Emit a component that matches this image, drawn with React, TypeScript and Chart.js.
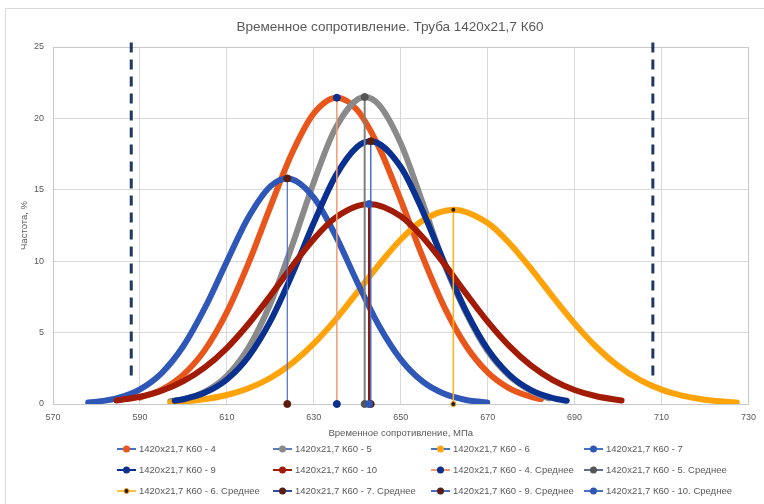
import React, { useEffect, useRef } from "react";
import { Chart, registerables } from "chart.js";

Chart.register(...registerables);

const FONT = "'Liberation Sans', Arial, sans-serif";
const TEXT = "#595959";

const TITLE = "Временное сопротивление. Труба 1420x21,7 К60";
const X_TITLE = "Временное сопротивление, МПа";
const Y_TITLE = "Частота, %";

// axis ranges and tick steps
const X_MIN = 570;
const X_MAX = 730;
const X_STEP = 20;
const Y_MIN = 0;
const Y_MAX = 25;
const Y_STEP = 5;

// distribution curves (MPa, %)
const k4X = [590, 595, 600, 605, 610, 615, 620, 625, 630, 635.3, 640, 645, 650, 655, 660, 665, 670, 675, 680, 682.3];
const k4Y = [0.45, 1.01, 2.06, 3.81, 6.43, 9.88, 13.81, 17.57, 20.35, 21.45, 20.58, 17.97, 14.28, 10.33, 6.8, 4.08, 2.22, 1.1, 0.5, 0.34];

const k5X = [597, 600, 605, 610, 615, 620, 625, 630, 635, 641.7, 645, 650, 655, 660, 665, 670, 675, 680, 684];
const k5Y = [0.19, 0.34, 0.87, 1.97, 3.95, 7.02, 11.08, 15.53, 19.32, 21.5, 20.95, 18.25, 14.12, 9.8, 6.4, 3.7, 1.95, 0.9, 0.4];

const k6X = [597, 600, 605, 610, 615, 620, 625, 630, 635, 640, 645, 650, 655, 662.1, 670, 675, 680, 685, 690, 695, 700, 705, 710, 715, 720, 727.3];
const k6Y = [0.11, 0.17, 0.34, 0.63, 1.1, 1.82, 2.86, 4.23, 5.91, 7.82, 9.76, 11.52, 12.84, 13.6, 12.67, 11.26, 9.46, 7.5, 5.63, 3.99, 2.67, 1.69, 1.01, 0.57, 0.3, 0.11];

const k7X = [578.1, 580, 585, 590, 595, 600, 605, 610, 615, 620, 623.9, 630, 635, 640, 645, 650, 655, 660, 665, 669.9];
const k7Y = [0.11, 0.16, 0.43, 1.03, 2.17, 4.06, 6.76, 9.98, 13.09, 15.24, 15.8, 14.46, 11.79, 8.53, 5.48, 3.13, 1.58, 0.71, 0.28, 0.1];

const k9X = [598, 600, 605, 610, 615, 620, 625, 630, 635, 640, 643.1, 650, 655, 660, 665, 670, 675, 680, 685, 688.2];
const k9Y = [0.23, 0.33, 0.8, 1.72, 3.33, 5.8, 9.06, 12.69, 15.96, 18.02, 18.4, 16.6, 13.54, 9.92, 6.52, 3.84, 2.04, 0.97, 0.41, 0.23];

const k10X = [584.6, 590, 595, 600, 605, 610, 615, 620, 625, 630, 635, 642.7, 650, 655, 660, 665, 670, 675, 680, 685, 690, 695, 700.8];
const k10Y = [0.25, 0.51, 0.93, 1.6, 2.58, 3.92, 5.62, 7.58, 9.64, 11.56, 13.05, 14.0, 13.14, 11.69, 9.81, 7.75, 5.77, 4.05, 2.68, 1.67, 0.98, 0.54, 0.25];

const curveNames = [
  "1420x21,7 К60 - 4",
  "1420x21,7 К60 - 5",
  "1420x21,7 К60 - 6",
  "1420x21,7 К60 - 7",
  "1420x21,7 К60 - 9",
  "1420x21,7 К60 - 10",
];

// mean values and the curve height at each mean
const meanNames = [
  "1420x21,7 К60 - 4. Среднее",
  "1420x21,7 К60 - 5. Среднее",
  "1420x21,7 К60 - 6. Среднее",
  "1420x21,7 К60 - 7. Среднее",
  "1420x21,7 К60 - 9. Среднее",
  "1420x21,7 К60 - 10. Среднее",
];
const meanX = [635.3, 641.7, 662.1, 623.9, 643.1, 642.7];
const meanTop = [21.45, 21.5, 13.6, 15.8, 18.4, 14.0];

// tolerance limits (dashed verticals)
const limitX = [588, 708];
const limitSpan = [2, 25.5];

// styles
const curveColors = ["#E8561C", "#8A8A8A", "#FFA30A", "#2F57B7", "#0A3090", "#A21B04"];
const curveLegendLine = ["#4472C4", "#5B7DB8", "#4472C4", "#4472C4", "#0A3090", "#A21B04"];
const meanLine = ["#F29A70", "#7F7F7F", "#FFB01E", "#4A6FC8", "#4A6FC8", "#8E1A08"];
const meanLegendLine = ["#F29A70", "#5F6F8F", "#FFC040", "#2F4F9F", "#4A6FC8", "#4A6FC8"];
const meanMarker = ["#0A3090", "#555555", "#1E1E1E", "#5A1E10", "#5A1E10", "#2F55B5"];
const meanMarkerBorder = ["#0A3090", "#555555", "#FFA30A", "#5A1E10", "#5A1E10", "#2F55B5"];
const meanMarkerR = [3.5, 3.5, 2.5, 3.5, 3.5, 3.5];
const meanWidth = [1.5, 2, 1.5, 1.2, 1.5, 2];
const limitColor = "#1F3864";

const curveX = [k4X, k5X, k6X, k7X, k9X, k10X];
const curveY = [k4Y, k5Y, k6Y, k7Y, k9Y, k10Y];

type LegendItem = { text: string; line: string; marker: string; border: string; r: number };

const legendItems: LegendItem[] = [
  ...curveNames.map((t, i) => ({ text: t, line: curveLegendLine[i], marker: curveColors[i], border: curveColors[i], r: 3.5 })),
  ...meanNames.map((t, i) => ({ text: t, line: meanLegendLine[i], marker: meanMarker[i], border: meanMarkerBorder[i], r: meanMarkerR[i] })),
];

const LEG_COLS = [117, 273, 431, 584];
const LEG_ROWS = [449, 470, 491];

const decorPlugin = {
  id: "decor",
  beforeDraw(chart: any) {
    const { ctx } = chart;
    ctx.save();
    ctx.fillStyle = "#ffffff";
    ctx.fillRect(0, 0, chart.width, chart.height);
    ctx.strokeStyle = "#D9D9D9";
    ctx.lineWidth = 1;
    ctx.strokeRect(5.5, 8.5, chart.width + 10, chart.height + 10);
    ctx.restore();
  },
  beforeDatasetsDraw(chart: any) {
    const { ctx, chartArea: a } = chart;
    ctx.save();
    ctx.strokeStyle = "#C8C8C8";
    ctx.lineWidth = 1;
    ctx.strokeRect(Math.round(a.left) + 0.5, Math.round(a.top) + 0.5, Math.round(a.right - a.left), Math.round(a.bottom - a.top));
    ctx.restore();
  },
  afterDraw(chart: any) {
    const { ctx } = chart;
    ctx.save();
    ctx.fillStyle = TEXT;
    ctx.font = `13.5px ${FONT}`;
    ctx.textAlign = "center";
    ctx.textBaseline = "middle";
    ctx.fillText(TITLE, 390, 27);

    ctx.font = `9.5px ${FONT}`;
    ctx.textAlign = "left";
    legendItems.forEach((it, i) => {
      const x = LEG_COLS[i % 4];
      const y = LEG_ROWS[Math.floor(i / 4)];
      ctx.strokeStyle = it.line;
      ctx.lineWidth = 2;
      ctx.beginPath();
      ctx.moveTo(x, y);
      ctx.lineTo(x + 19, y);
      ctx.stroke();
      ctx.beginPath();
      ctx.arc(x + 9.5, y, it.r, 0, Math.PI * 2);
      ctx.fillStyle = it.marker;
      ctx.fill();
      if (it.border !== it.marker) {
        ctx.strokeStyle = it.border;
        ctx.lineWidth = 1;
        ctx.stroke();
      }
      ctx.fillStyle = TEXT;
      ctx.fillText(it.text, x + 22, y + 0.5);
    });
    ctx.restore();
  },
};

export default function App() {
  const ref = useRef<HTMLCanvasElement | null>(null);

  useEffect(() => {
    document.body.style.margin = "0";
    if (!ref.current) return;

    const curveSets = curveX.map((xs, i) => ({
      label: curveNames[i],
      data: xs.map((x, j) => ({ x, y: curveY[i][j] })),
      showLine: true,
      borderColor: curveColors[i],
      backgroundColor: curveColors[i],
      borderWidth: 6,
      borderCapStyle: "round" as const,
      borderJoinStyle: "round" as const,
      pointRadius: 0,
      cubicInterpolationMode: "monotone" as const,
      order: 100 - i,
    }));

    const meanSets = meanX.map((m, i) => ({
      label: meanNames[i],
      data: [
        { x: m, y: 0 },
        { x: m, y: meanTop[i] },
      ],
      showLine: true,
      borderColor: meanLine[i],
      borderWidth: meanWidth[i],
      pointRadius: meanMarkerR[i],
      pointBackgroundColor: meanMarker[i],
      pointBorderColor: meanMarkerBorder[i],
      pointBorderWidth: 1,
      clip: false as const,
      order: 50 - i,
    }));

    const limitSets = limitX.map((x, i) => ({
      label: "limit" + i,
      data: [
        { x, y: limitSpan[0] },
        { x, y: limitSpan[1] },
      ],
      showLine: true,
      borderColor: limitColor,
      borderWidth: 3,
      borderDash: [10, 7],
      pointRadius: 0,
      clip: false as const,
      order: 10 - i,
    }));

    const chart = new Chart(ref.current, {
      type: "scatter",
      data: { datasets: [...curveSets, ...meanSets, ...limitSets] as any },
      plugins: [decorPlugin],
      options: {
        animation: false,
        responsive: false,
        devicePixelRatio: 1,
        events: [],
        layout: { padding: { top: 47, right: 12, bottom: 60, left: 0 } },
        plugins: {
          legend: { display: false },
          title: { display: false },
          tooltip: { enabled: false },
        },
        scales: {
          x: {
            type: "linear",
            min: X_MIN,
            max: X_MAX,
            ticks: { stepSize: X_STEP, padding: 8, color: TEXT, font: { size: 9, family: FONT } },
            grid: { color: "#D9D9D9", drawTicks: false },
            border: { display: false },
            title: {
              display: true,
              text: X_TITLE,
              color: TEXT,
              font: { size: 9.5, family: FONT },
              padding: { top: 0, bottom: 5 },
            },
            afterFit: (s: any) => {
              s.height = 40;
            },
          } as any,
          y: {
            type: "linear",
            min: Y_MIN,
            max: Y_MAX,
            ticks: { stepSize: Y_STEP, padding: 9, color: TEXT, font: { size: 9, family: FONT } },
            grid: { color: "#D9D9D9", drawTicks: false },
            border: { display: false },
            title: {
              display: true,
              text: Y_TITLE,
              color: TEXT,
              font: { size: 9.5, family: FONT },
              padding: { top: 19, bottom: 0 },
            },
            afterFit: (s: any) => {
              s.width = 53;
            },
          } as any,
        },
      },
    });
    return () => chart.destroy();
  }, []);

  return (
    <div style={{ width: 764, height: 504 }}>
      <canvas ref={ref} width={764} height={504} style={{ display: "block" }} />
    </div>
  );
}
